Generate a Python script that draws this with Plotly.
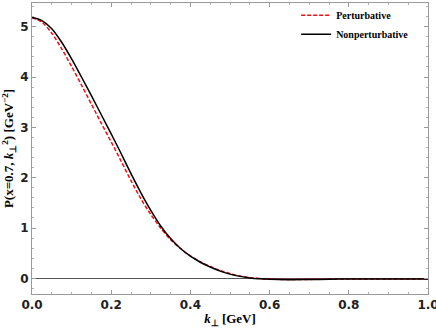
import plotly.graph_objects as go

k_perp = [0.0, 0.025, 0.05, 0.075, 0.1, 0.125, 0.15, 0.175, 0.2, 0.225, 0.25,
          0.275, 0.3, 0.325, 0.35, 0.375, 0.4, 0.425, 0.45, 0.475, 0.5, 0.525,
          0.55, 0.575, 0.6, 0.65, 0.7, 0.75, 0.8, 0.9, 1.0]

nonpert = [5.18, 5.12, 4.96, 4.69, 4.36, 4.00, 3.63, 3.25, 2.87, 2.48, 2.08,
           1.70, 1.35, 1.04, 0.79, 0.595, 0.44, 0.32, 0.225, 0.145, 0.085, 0.04,
           0.01, -0.008, -0.018, -0.025, -0.022, -0.017, -0.013, -0.01, -0.01]

pert = [5.18, 5.09, 4.87, 4.56, 4.21, 3.84, 3.46, 3.08, 2.71, 2.33, 1.94,
        1.58, 1.27, 1.00, 0.77, 0.595, 0.445, 0.33, 0.235, 0.158, 0.095, 0.048,
        0.015, -0.004, -0.015, -0.022, -0.02, -0.016, -0.012, -0.01, -0.01]

x_ticks = [0.0, 0.2, 0.4, 0.6, 0.8, 1.0]
x_labels = ["0.0", "0.2", "0.4", "0.6", "0.8", "1.0"]
y_ticks = [0, 1, 2, 3, 4, 5]

serif = "Liberation Serif, Times New Roman, serif"
sans = "DejaVu Sans, sans-serif"

fig = go.Figure()
fig.add_trace(go.Scatter(
    x=k_perp, y=pert, mode="lines", name="Perturbative",
    line=dict(color="#f01010", width=1.5, dash="4px,2px", shape="spline", smoothing=0.8),
))
fig.add_trace(go.Scatter(
    x=k_perp, y=nonpert, mode="lines", name="Nonperturbative",
    line=dict(color="black", width=1.5, shape="spline", smoothing=0.8),
))

axis_common = dict(
    showline=True, linecolor="#9a9a9a", linewidth=1, mirror="ticks",
    ticks="inside", ticklen=4, tickcolor="#9a9a9a",
    showgrid=False, automargin=False, ticklabeloverflow="allow",
    tickfont=dict(family=sans, size=12, color="#222", weight="bold"),
)

fig.update_layout(
    width=436, height=332,
    paper_bgcolor="white", plot_bgcolor="white",
    margin=dict(l=32, r=8, t=1, b=38),
    showlegend=True,
    legend=dict(
        x=0.965, y=1.008, xanchor="right", yanchor="top",
        bgcolor="rgba(0,0,0,0)",
        font=dict(family=serif, size=10, color="black", weight="bold"),
        itemwidth=30, tracegroupgap=0,
    ),
    xaxis=dict(
        axis_common, range=[0, 1], tickvals=x_ticks, ticktext=x_labels,
        zeroline=False,
        minor=dict(dtick=0.05, ticks="inside", ticklen=2, tickcolor="#b0b0b0"),
        title=dict(
            text="<i>k</i><sub>⊥</sub> [GeV]",
            font=dict(family=serif, size=13, color="black", weight="bold"),
            standoff=2,
        ),
    ),
    yaxis=dict(
        axis_common, range=[-0.31, 5.47], tickvals=y_ticks,
        zeroline=True, zerolinecolor="#555", zerolinewidth=1,
        minor=dict(dtick=0.2, ticks="inside", ticklen=2, tickcolor="#b0b0b0"),
        title=dict(
            text="P(x=0.7, <i>k</i><sub>⊥</sub><sup>2</sup>) [GeV<sup>−2</sup>]",
            font=dict(family=serif, size=13, color="black", weight="bold"),
            standoff=4,
        ),
    ),
)

# the page body has a default margin that pushes the figure off the corner
fig.write_html(
    "out.html",
    config={"displayModeBar": False},
    post_script="document.body.style.margin='0';",
)
